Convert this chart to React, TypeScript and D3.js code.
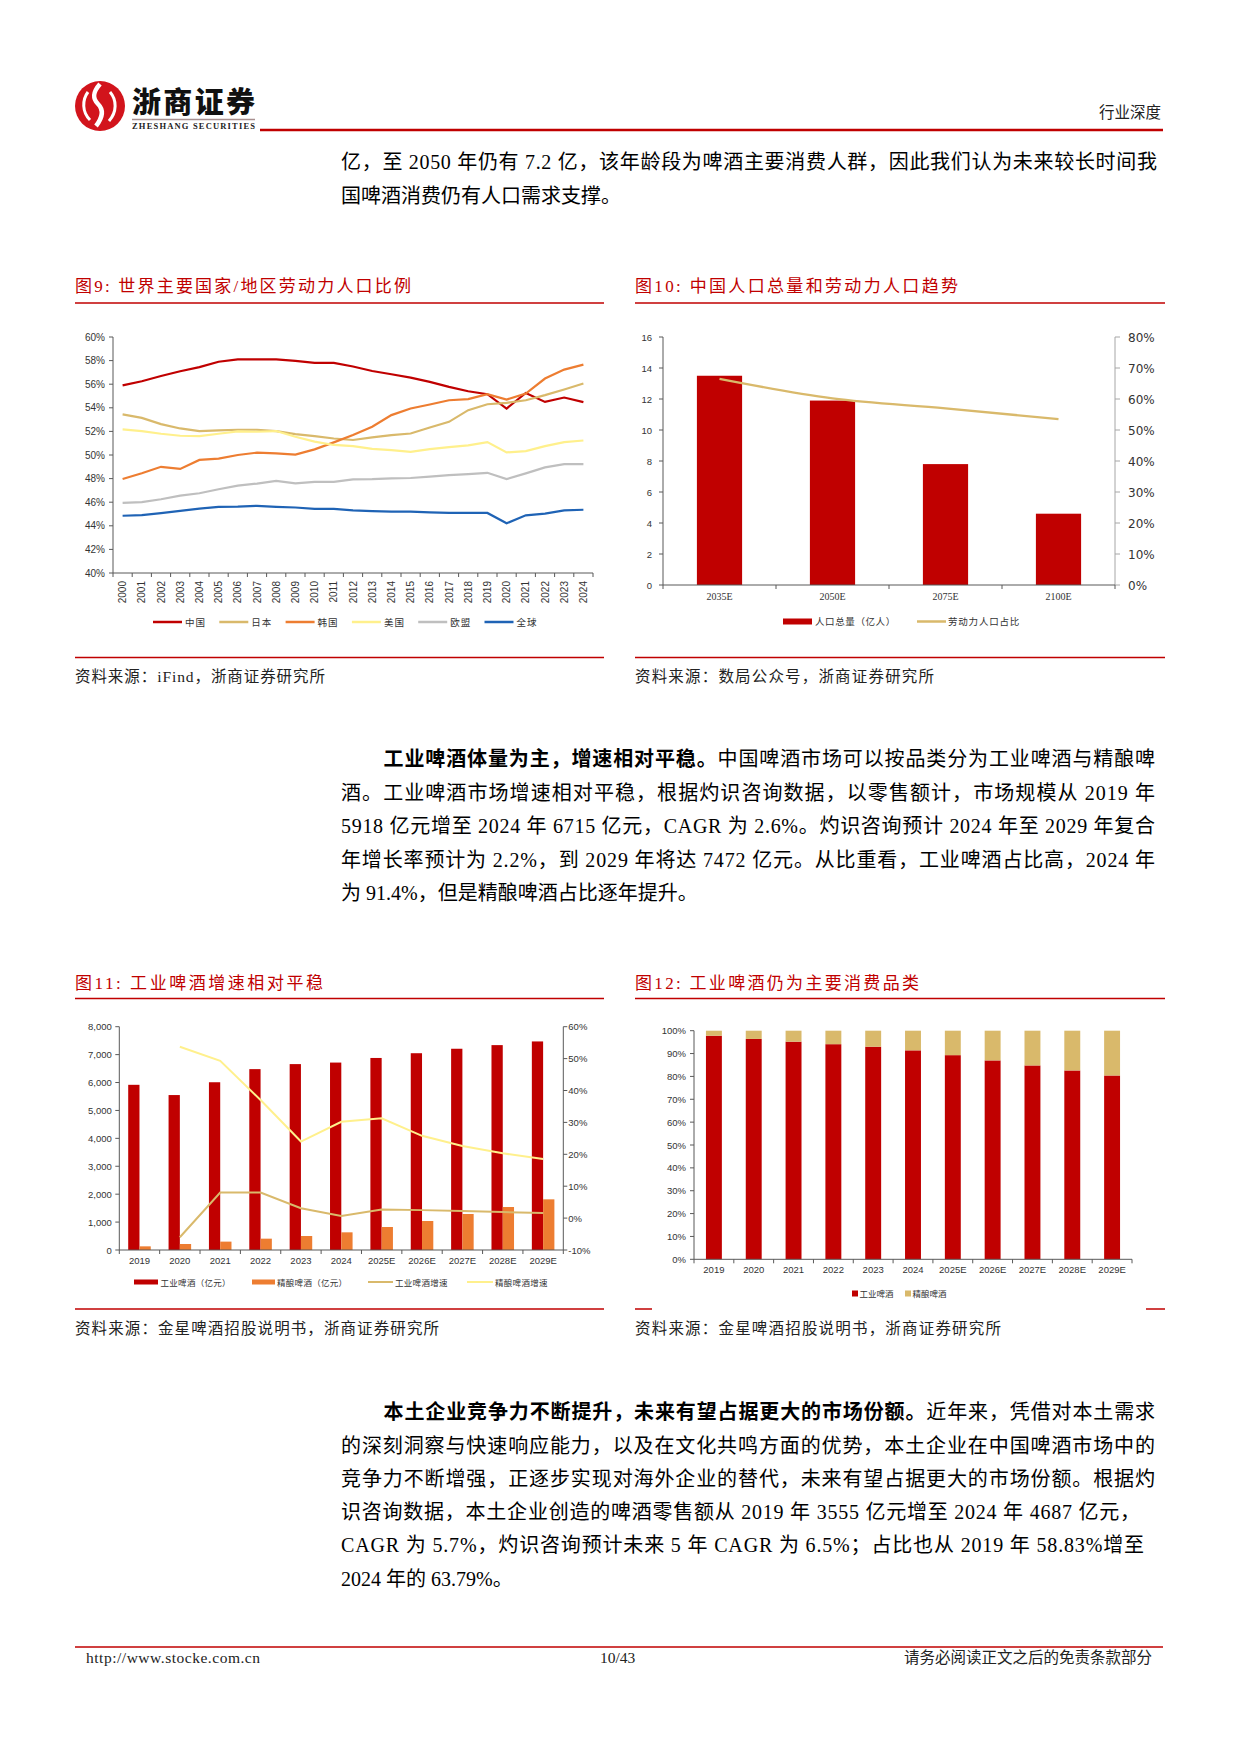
import React from 'react';
import * as d3 from 'd3';

// ---------- Figure 9 data ----------
const years9 = ['2000','2001','2002','2003','2004','2005','2006','2007','2008','2009','2010','2011','2012','2013','2014','2015','2016','2017','2018','2019','2020','2021','2022','2023','2024'];
const china = [55.9,56.25,56.7,57.1,57.45,57.9,58.1,58.1,58.1,57.97,57.8,57.8,57.5,57.12,56.84,56.56,56.2,55.77,55.4,55.15,53.94,55.26,54.5,54.87,54.48];
const japan = [53.44,53.15,52.62,52.25,52.03,52.08,52.14,52.14,52.03,51.77,51.6,51.4,51.27,51.49,51.68,51.82,52.33,52.81,53.8,54.3,54.42,54.64,55.07,55.55,56.06];
const korea = [47.97,48.45,49.0,48.82,49.58,49.69,50.0,50.2,50.14,50.03,50.48,51.07,51.69,52.39,53.38,53.94,54.28,54.64,54.73,55.15,54.7,55.21,56.48,57.24,57.66];
const usa = [52.17,52.03,51.8,51.63,51.6,51.8,52.0,51.97,52.03,51.55,51.13,50.85,50.75,50.52,50.41,50.27,50.5,50.67,50.81,51.09,50.22,50.33,50.75,51.09,51.23];
const eu = [45.94,46.0,46.25,46.56,46.76,47.1,47.41,47.58,47.8,47.6,47.72,47.72,47.94,47.96,48.02,48.05,48.16,48.3,48.38,48.49,47.96,48.44,48.95,49.23,49.23];
const world = [44.85,44.9,45.07,45.27,45.46,45.61,45.63,45.69,45.61,45.55,45.44,45.44,45.3,45.24,45.2,45.2,45.14,45.09,45.09,45.09,44.21,44.89,45.03,45.31,45.36];
const names9 = ['中国','日本','韩国','美国','欧盟','全球'];

// ---------- Figure 10 data ----------
const popCats = ['2035E','2050E','2075E','2100E'];
const popTotal = [13.5, 11.9, 7.8, 4.6];
const laborShare = [0.665, 0.602, 0.57, 0.535];
const names10 = ['人口总量（亿人）','劳动力人口占比'];

// ---------- Figure 11 / 12 data ----------
const beerYears = ['2019','2020','2021','2022','2023','2024','2025E','2026E','2027E','2028E','2029E'];
const industrialSales = [5918,5551,6010,6480,6660,6715,6880,7050,7210,7340,7472];
const craftSales = [131,215,300,406,501,633,824,1039,1290,1540,1815];
const industrialGrowth = [null,-6.0,8.0,8.0,3.1,0.7,2.7,2.5,2.2,1.9,1.6];
const craftGrowth = [null,53.7,49.3,37.0,24.0,30.2,31.3,25.8,22.6,20.3,18.5];
const names11 = ['工业啤酒（亿元）','精酿啤酒（亿元）','工业啤酒增速','精酿啤酒增速'];
const industrialShare = [97.8,96.4,95.2,94.1,93.0,91.4,89.3,87.0,84.8,82.6,80.4];
const craftShare = [2.2,3.6,4.8,5.9,7.0,8.6,10.7,13.0,15.2,17.4,19.6];
const names12 = ['工业啤酒','精酿啤酒'];

const RED = '#C00000';
const TAN = '#D9B96B';
const ORANGE = '#ED7D31';
const PALE = '#FFF08C';
const GRAY = '#BFBFBF';
const BLUE = '#1F63B5';

const SANS = "'Liberation Sans', Arial, 'Noto Sans CJK SC', sans-serif";
const SERIF = "'Liberation Serif', 'Times New Roman', 'Noto Sans CJK SC', serif";
const CJK = "'Noto Sans CJK SC', sans-serif";
const AX = '#595959';
const TXT = '#333333';

function Chart9() {
  const x = d3.scaleBand<string>().domain(years9).range([113, 593]);
  const y = d3.scaleLinear().domain([40, 60]).range([573, 337]);
  const bw = x.bandwidth();
  const [x0, x1] = x.range();
  const [yb, yt] = y.range();
  const series = [china, japan, korea, usa, eu, world];
  const colors = [RED, TAN, ORANGE, PALE, GRAY, BLUE];
  const line = d3.line<number>().x((_, i) => (x(years9[i]) as number) + bw / 2).y(d => y(d));
  return (
    <g>
      {y.ticks(10).map(t => (
        <g key={t}>
          <line x1={x0 - 4} x2={x0} y1={y(t)} y2={y(t)} stroke={AX} />
          <text x={x0 - 8} y={y(t) + 3.5} textAnchor="end" fontFamily={SANS} fontSize={10} fill={TXT}>{t}%</text>
        </g>
      ))}
      <line x1={x0} x2={x0} y1={yt} y2={yb} stroke={AX} />
      <line x1={x0} x2={x1} y1={yb} y2={yb} stroke={AX} />
      {d3.range(years9.length + 1).map(i => (
        <line key={i} x1={x0 + i * bw} x2={x0 + i * bw} y1={yb} y2={yb + 4} stroke={AX} />
      ))}
      {years9.map(yr => (
        <text key={yr} transform={`translate(${(x(yr) as number) + bw / 2 + 3.5},${yb + 8}) rotate(-90)`} textAnchor="end" fontFamily={SANS} fontSize={10} fill={TXT}>{yr}</text>
      ))}
      {series.map((s, i) => (
        <path key={i} d={line(s) as string} fill="none" stroke={colors[i]} strokeWidth={2.2} />
      ))}
      {names9.map((n, i) => (
        <g key={n} transform={`translate(${153 + i * 66.3},622)`}>
          <line x1={0} x2={29} y1={0} y2={0} stroke={colors[i]} strokeWidth={2.5} />
          <text x={32} y={3.5} fontFamily={CJK} fontSize={9.5} letterSpacing={1} fill={TXT}>{n}</text>
        </g>
      ))}
    </g>
  );
}

function Chart10() {
  const x = d3.scaleBand<string>().domain(popCats).range([663, 1115]);
  const yl = d3.scaleLinear().domain([0, 16]).range([585, 337]);
  const yr = d3.scaleLinear().domain([0, 0.8]).range([585, 337]);
  const bw = x.bandwidth();
  const barW = bw * 0.4;
  const [x0, x1] = x.range();
  const [yb, yt] = yl.range();
  const line = d3.line<number>().x((_, i) => (x(popCats[i]) as number) + bw / 2).y(d => yr(d)).curve(d3.curveMonotoneX);
  return (
    <g>
      {popTotal.map((v, i) => (
        <rect key={i} x={(x(popCats[i]) as number) + (bw - barW) / 2} y={yl(v)} width={barW} height={yb - yl(v)} fill={RED} />
      ))}
      <path d={line(laborShare) as string} fill="none" stroke={TAN} strokeWidth={2.3} />
      <line x1={x0} x2={x0} y1={yt} y2={yb} stroke={AX} />
      {yl.ticks(8).map(t => (
        <g key={t}>
          <line x1={x0 - 4} x2={x0} y1={yl(t)} y2={yl(t)} stroke={AX} />
          <text x={x0 - 11} y={yl(t) + 3.5} textAnchor="end" fontFamily={SANS} fontSize={9.5} fill={TXT}>{t}</text>
        </g>
      ))}
      <line x1={x1} x2={x1} y1={yt} y2={yb} stroke="#A6A6A6" />
      {yr.ticks(8).map(t => (
        <g key={t}>
          <line x1={x1} x2={x1 + 5} y1={yr(t)} y2={yr(t)} stroke="#A6A6A6" />
          <text x={x1 + 13} y={yr(t) + 4.5} fontFamily="'DejaVu Sans', sans-serif" fontSize={12} fill={TXT}>{d3.format('.0%')(t)}</text>
        </g>
      ))}
      <line x1={x0} x2={x1} y1={yb} y2={yb} stroke={AX} />
      {d3.range(popCats.length + 1).map(i => (
        <line key={i} x1={x0 + i * bw} x2={x0 + i * bw} y1={yb} y2={yb + 4} stroke={AX} />
      ))}
      {popCats.map(c => (
        <text key={c} x={(x(c) as number) + bw / 2} y={yb + 15} textAnchor="middle" fontFamily={SERIF} fontSize={10} fill={TXT}>{c}</text>
      ))}
      <rect x={783} y={618.5} width={29} height={6} fill={RED} />
      <text x={815} y={625} fontFamily={CJK} fontSize={9.5} letterSpacing={0.6} fill={TXT}>{names10[0]}</text>
      <line x1={917} x2={946} y1={621.5} y2={621.5} stroke={TAN} strokeWidth={2.5} />
      <text x={948} y={625} fontFamily={CJK} fontSize={9.5} letterSpacing={0.8} fill={TXT}>{names10[1]}</text>
    </g>
  );
}

function Chart11() {
  const x = d3.scaleBand<string>().domain(beerYears).range([119.3, 563.3]);
  const sub = d3.scaleBand<string>().domain(['ind', 'craft']).range([0, x.bandwidth()]).paddingOuter(0.79);
  const yl = d3.scaleLinear().domain([0, 8000]).range([1250, 1026.7]);
  const yr = d3.scaleLinear().domain([-10, 60]).range([1250, 1026.7]);
  const bw = x.bandwidth();
  const [x0, x1] = x.range();
  const [yb, yt] = yl.range();
  const line = d3.line<number | null>()
    .defined(d => d !== null)
    .x((_, i) => (x(beerYears[i]) as number) + bw / 2)
    .y(d => yr(d as number));
  return (
    <g>
      {industrialSales.map((v, i) => (
        <rect key={'i' + i} x={(x(beerYears[i]) as number) + (sub('ind') as number)} y={yl(v)} width={sub.bandwidth()} height={yb - yl(v)} fill={RED} />
      ))}
      {craftSales.map((v, i) => (
        <rect key={'c' + i} x={(x(beerYears[i]) as number) + (sub('craft') as number)} y={yl(v)} width={sub.bandwidth()} height={yb - yl(v)} fill={ORANGE} />
      ))}
      <path d={line(industrialGrowth) as string} fill="none" stroke={TAN} strokeWidth={2} />
      <path d={line(craftGrowth) as string} fill="none" stroke={PALE} strokeWidth={2} />
      <line x1={x0} x2={x0} y1={yt} y2={yb} stroke={AX} />
      {yl.ticks(8).map(t => (
        <g key={t}>
          <line x1={x0 - 4} x2={x0} y1={yl(t)} y2={yl(t)} stroke={AX} />
          <text x={x0 - 7.5} y={yl(t) + 3.5} textAnchor="end" fontFamily={SANS} fontSize={9.5} fill={TXT}>{d3.format(',')(t)}</text>
        </g>
      ))}
      <line x1={x1} x2={x1} y1={yt} y2={yb} stroke={AX} />
      {yr.ticks(7).map(t => (
        <g key={t}>
          <line x1={x1} x2={x1 + 4} y1={yr(t)} y2={yr(t)} stroke={AX} />
          <text x={x1 + 5} y={yr(t) + 3.5} fontFamily={SANS} fontSize={9.5} fill={TXT}>{t}%</text>
        </g>
      ))}
      <line x1={x0} x2={x1} y1={yb} y2={yb} stroke={AX} />
      {d3.range(beerYears.length + 1).map(i => (
        <line key={i} x1={x0 + i * bw} x2={x0 + i * bw} y1={yb} y2={yb + 4} stroke={AX} />
      ))}
      {beerYears.map(c => (
        <text key={c} x={(x(c) as number) + bw / 2} y={yb + 13.5} textAnchor="middle" fontFamily={SANS} fontSize={9.5} fill={TXT}>{c}</text>
      ))}
      <rect x={134} y={1279.5} width={24} height={5} fill={RED} />
      <text x={160.5} y={1285.5} fontFamily={CJK} fontSize={8.5} letterSpacing={0.3} fill={TXT}>{names11[0]}</text>
      <rect x={252} y={1279.5} width={23} height={5} fill={ORANGE} />
      <text x={277} y={1285.5} fontFamily={CJK} fontSize={8.5} letterSpacing={0.3} fill={TXT}>{names11[1]}</text>
      <line x1={368} x2={393} y1={1282} y2={1282} stroke={TAN} strokeWidth={2} />
      <text x={395} y={1285.5} fontFamily={CJK} fontSize={8.5} letterSpacing={0.3} fill={TXT}>{names11[2]}</text>
      <line x1={467} x2={493} y1={1282} y2={1282} stroke={PALE} strokeWidth={2} />
      <text x={495} y={1285.5} fontFamily={CJK} fontSize={8.5} letterSpacing={0.3} fill={TXT}>{names11[3]}</text>
    </g>
  );
}

function Chart12() {
  const x = d3.scaleBand<string>().domain(beerYears).range([694, 1132]);
  const y = d3.scaleLinear().domain([0, 100]).range([1259.3, 1030.7]);
  const bw = x.bandwidth();
  const barW = bw * 0.4;
  const [x0, x1] = x.range();
  const [yb, yt] = y.range();
  return (
    <g>
      {industrialShare.map((v, i) => (
        <rect key={'i' + i} x={(x(beerYears[i]) as number) + (bw - barW) / 2} y={y(v)} width={barW} height={yb - y(v)} fill={RED} />
      ))}
      {craftShare.map((v, i) => (
        <rect key={'c' + i} x={(x(beerYears[i]) as number) + (bw - barW) / 2} y={y(industrialShare[i] + v)} width={barW} height={y(industrialShare[i]) - y(industrialShare[i] + v)} fill={TAN} />
      ))}
      <line x1={x0} x2={x0} y1={yt} y2={yb} stroke={AX} />
      {y.ticks(10).map(t => (
        <g key={t}>
          <line x1={x0 - 4} x2={x0} y1={y(t)} y2={y(t)} stroke={AX} />
          <text x={x0 - 8} y={y(t) + 3.5} textAnchor="end" fontFamily={SANS} fontSize={9.5} fill={TXT}>{t}%</text>
        </g>
      ))}
      <line x1={x0} x2={x1} y1={yb} y2={yb} stroke={AX} />
      {d3.range(beerYears.length + 1).map(i => (
        <line key={i} x1={x0 + i * bw} x2={x0 + i * bw} y1={yb} y2={yb + 4} stroke={AX} />
      ))}
      {beerYears.map(c => (
        <text key={c} x={(x(c) as number) + bw / 2} y={yb + 14} textAnchor="middle" fontFamily={SANS} fontSize={9.5} fill={TXT}>{c}</text>
      ))}
      <rect x={852} y={1290.5} width={6} height={6} fill={RED} />
      <text x={859.5} y={1296.5} fontFamily={CJK} fontSize={8.5} fill={TXT}>{names12[0]}</text>
      <rect x={905} y={1290.5} width={6} height={6} fill={TAN} />
      <text x={912.5} y={1296.5} fontFamily={CJK} fontSize={8.5} fill={TXT}>{names12[1]}</text>
    </g>
  );
}

const BODY = { fontFamily: SERIF, fontSize: 20, fill: '#000' };

function Line({ x, y, end, children }: { x: number; y: number; end?: number; children: React.ReactNode }) {
  return (
    <text x={x} y={y} {...BODY} {...(end ? { textLength: end - x, lengthAdjust: 'spacing' } : {})}>{children}</text>
  );
}

function Title({ x, y, len, children }: { x: number; y: number; len: number; children: React.ReactNode }) {
  return <text x={x} y={y} fontFamily={SERIF} fontSize={17} fill={RED} textLength={len} lengthAdjust="spacing">{children}</text>;
}

function Source({ x, y, len, children }: { x: number; y: number; len: number; children: React.ReactNode }) {
  return <text x={x} y={y} fontFamily={SERIF} fontSize={15.5} fill="#222" textLength={len} lengthAdjust="spacing">{children}</text>;
}

export default function App() {
  return (
    <svg width={1240} height={1753} viewBox="0 0 1240 1753" style={{ position: 'absolute', left: 0, top: 0, background: '#fff' }}>
      <rect width={1240} height={1753} fill="#fff" />
      {/* header */}
      <circle cx={100} cy={106} r={25} fill="#D2141C" />
      <path d="M100 84 C93 92, 92 98, 98 104 C104 110, 103 117, 96 126" fill="none" stroke="#fff" strokeWidth={4.5} />
      <path d="M88 92 C82 100, 82 112, 90 120" fill="none" stroke="#fff" strokeWidth={3} />
      <path d="M110 92 C117 100, 117 112, 109 121" fill="none" stroke="#fff" strokeWidth={3} />
      <text x={132} y={113} fontFamily={CJK} fontWeight={900} fontSize={29} fill="#111" textLength={123} lengthAdjust="spacing">浙商证券</text>
      <line x1={132} x2={255} y1={119.5} y2={119.5} stroke="#A89090" strokeWidth={1.5} />
      <text x={132} y={129} fontFamily={SERIF} fontWeight="bold" fontSize={8.5} fill="#222" textLength={123} lengthAdjust="spacing">ZHESHANG SECURITIES</text>
      <line x1={260} x2={1163} y1={130} y2={130} stroke={RED} strokeWidth={2.5} />
      <text x={1161} y={118} textAnchor="end" fontFamily={SERIF} fontSize={15.5} fill="#222">行业深度</text>

      {/* paragraph 1 */}
      <Line x={341} y={169} end={1157}>亿，至 2050 年仍有 7.2 亿，该年龄段为啤酒主要消费人群，因此我们认为未来较长时间我</Line>
      <Line x={341} y={203}>国啤酒消费仍有人口需求支撑。</Line>

      {/* figure titles row 1 */}
      <Title x={75} y={292} len={336}>图9:  世界主要国家/地区劳动力人口比例</Title>
      <Title x={635} y={292} len={323}>图10:  中国人口总量和劳动力人口趋势</Title>
      <line x1={75} x2={604} y1={303} y2={303} stroke={RED} strokeWidth={1.5} />
      <line x1={635} x2={1165} y1={303} y2={303} stroke={RED} strokeWidth={1.5} />
      <Chart9 />
      <Chart10 />
      <line x1={75} x2={604} y1={657.5} y2={657.5} stroke={RED} strokeWidth={1.5} />
      <line x1={635} x2={1165} y1={657.5} y2={657.5} stroke={RED} strokeWidth={1.5} />
      <Source x={75} y={682} len={250}>资料来源：iFind，浙商证券研究所</Source>
      <Source x={635} y={682} len={299}>资料来源：数局公众号，浙商证券研究所</Source>

      {/* paragraph 2 */}
      <Line x={383.5} y={766} end={1155}><tspan fontWeight="bold">工业啤酒体量为主，增速相对平稳。</tspan>中国啤酒市场可以按品类分为工业啤酒与精酿啤</Line>
      <Line x={341} y={800} end={1155}>酒。工业啤酒市场增速相对平稳，根据灼识咨询数据，以零售额计，市场规模从 2019 年</Line>
      <Line x={341} y={833} end={1155}>5918 亿元增至 2024 年 6715 亿元，CAGR 为 2.6%。灼识咨询预计 2024 年至 2029 年复合</Line>
      <Line x={341} y={867} end={1155}>年增长率预计为 2.2%，到 2029 年将达 7472 亿元。从比重看，工业啤酒占比高，2024 年</Line>
      <Line x={341} y={900}>为 91.4%，但是精酿啤酒占比逐年提升。</Line>

      {/* figure titles row 2 */}
      <Title x={75} y={989} len={248}>图11:  工业啤酒增速相对平稳</Title>
      <Title x={635} y={989} len={284}>图12:  工业啤酒仍为主要消费品类</Title>
      <line x1={75} x2={604} y1={998.5} y2={998.5} stroke={RED} strokeWidth={1.5} />
      <line x1={635} x2={1165} y1={998.5} y2={998.5} stroke={RED} strokeWidth={1.5} />
      <Chart11 />
      <Chart12 />
      <line x1={75} x2={604} y1={1309} y2={1309} stroke={RED} strokeWidth={1.5} />
      <line x1={635} x2={652} y1={1309} y2={1309} stroke={RED} strokeWidth={1.5} />
      <line x1={1146} x2={1165} y1={1309} y2={1309} stroke={RED} strokeWidth={1.5} />
      <Source x={75} y={1334} len={364}>资料来源：金星啤酒招股说明书，浙商证券研究所</Source>
      <Source x={635} y={1334} len={366}>资料来源：金星啤酒招股说明书，浙商证券研究所</Source>

      {/* paragraph 3 */}
      <Line x={383.5} y={1419} end={1155}><tspan fontWeight="bold">本土企业竞争力不断提升，未来有望占据更大的市场份额。</tspan>近年来，凭借对本土需求</Line>
      <Line x={341} y={1453} end={1155}>的深刻洞察与快速响应能力，以及在文化共鸣方面的优势，本土企业在中国啤酒市场中的</Line>
      <Line x={341} y={1486} end={1155}>竞争力不断增强，正逐步实现对海外企业的替代，未来有望占据更大的市场份额。根据灼</Line>
      <Line x={341} y={1519} end={1140}>识咨询数据，本土企业创造的啤酒零售额从 2019 年 3555 亿元增至 2024 年 4687 亿元，</Line>
      <Line x={341} y={1552} end={1144}>CAGR 为 5.7%，灼识咨询预计未来 5 年 CAGR 为 6.5%；占比也从 2019 年 58.83%增至</Line>
      <Line x={341} y={1586}>2024 年的 63.79%。</Line>

      {/* footer */}
      <line x1={75} x2={1163} y1={1647} y2={1647} stroke={RED} strokeWidth={1.5} />
      <text x={86} y={1663} fontFamily={SERIF} fontSize={15.5} fill="#222" textLength={174} lengthAdjust="spacing">http://www.stocke.com.cn</text>
      <text x={600} y={1663} fontFamily={SERIF} fontSize={15.5} fill="#222">10/43</text>
      <text x={1152} y={1663} textAnchor="end" fontFamily={SERIF} fontSize={15.5} fill="#222">请务必阅读正文之后的免责条款部分</text>
    </svg>
  );
}
